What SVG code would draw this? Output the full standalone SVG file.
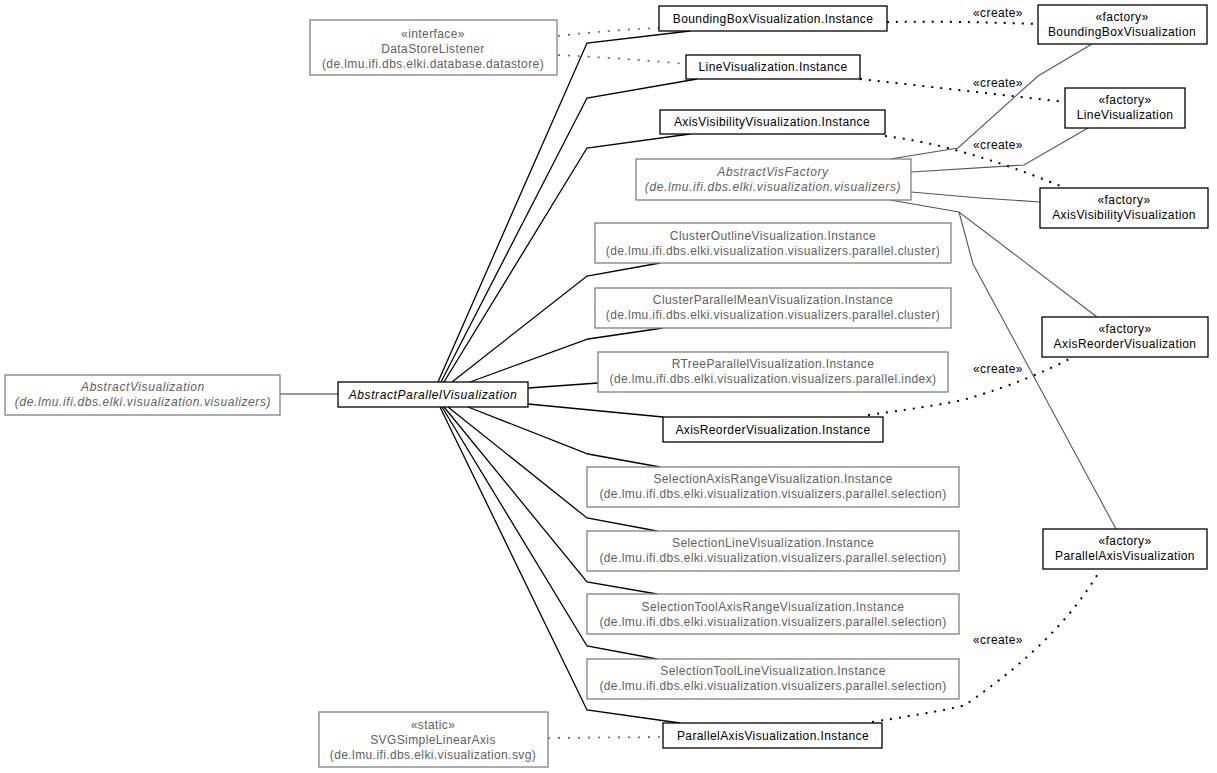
<svg xmlns="http://www.w3.org/2000/svg" width="1217" height="773" viewBox="0 0 1217 773">
<style>
text{font-family:"Liberation Sans",Arial,sans-serif;font-size:12px;text-anchor:middle;letter-spacing:0.4px}
.b rect{fill:#fff;stroke:#000;stroke-width:1.3}
.b text{fill:#000}
.g rect{fill:#fff;stroke:#808080;stroke-width:1.3}
.g text{fill:#606060}
.i text{font-style:italic;letter-spacing:0.6px}
.fan{fill:none;stroke:#000;stroke-width:1.3}
.gl{fill:none;stroke:#555;stroke-width:1.1}
.cr{fill:none;stroke:#000;stroke-width:2;stroke-dasharray:2 7}
.gd{fill:none;stroke:#606060;stroke-width:1.6;stroke-dasharray:2 8}
.lbl{fill:#000}
</style>
<rect width="1217" height="773" fill="#fff"/>
<g id="connectors">
<polyline class="fan" points="438,382 587,43 690,31"/>
<polyline class="fan" points="441,382 587,98 697,79"/>
<polyline class="fan" points="444,382 587,148 690,134"/>
<polyline class="fan" points="452,382 587,276 660,263"/>
<polyline class="fan" points="470,382 588,339 663,328"/>
<polyline class="fan" points="528,388 598,383"/>
<polyline class="fan" points="528,404 663,417"/>
<polyline class="fan" points="468,407 588,454 660,467"/>
<polyline class="fan" points="448,407 587,518 657,531"/>
<polyline class="fan" points="444,407 587,582 657,594"/>
<polyline class="fan" points="442,407 587,646 657,659"/>
<polyline class="fan" points="440,407 587,710 680,723"/>
<line x1="280" y1="394" x2="338" y2="394" stroke="#333" stroke-width="1.2"/>
<polyline class="gl" points="890,159 958,148 1038,76 1092,44"/>
<polyline class="gl" points="911,172 1024,165 1088,128"/>
<polyline class="gl" points="911,192 980,198 1040,202"/>
<polyline class="gl" points="890,200 959,212 1097,317"/>
<polyline class="gl" points="959,212 973,264 1116,529"/>
<path class="gd" d="M558,36 Q610,30 659,28"/>
<path class="gd" d="M558,55 Q620,58 686,64"/>
<path class="gd" d="M548,738 L663,737"/>
<path class="cr" d="M887,22 Q960,21 1038,24"/>
<path class="cr" d="M860,79 Q960,90 1065,102"/>
<path class="cr" d="M885,136 Q960,145 1063,187"/>
<path class="cr" d="M868,415 Q950,404 970,398 Q1030,380 1073,357"/>
<path class="cr" d="M872,722 Q950,710 965,705 Q1060,640 1100,570"/>
<text class="lbl" x="998" y="17">«create»</text>
<text class="lbl" x="998" y="87">«create»</text>
<text class="lbl" x="998" y="149">«create»</text>
<text class="lbl" x="998" y="373">«create»</text>
<text class="lbl" x="998" y="644">«create»</text>
</g>
<g id="n_bbinst" class="b"><rect x="659" y="6" width="228" height="25"/><text x="773" y="23">BoundingBoxVisualization.Instance</text></g>
<g id="n_lineinst" class="b"><rect x="686" y="55" width="174" height="24"/><text x="773" y="71">LineVisualization.Instance</text></g>
<g id="n_axisvisinst" class="b"><rect x="660" y="110" width="225" height="24"/><text x="772" y="126">AxisVisibilityVisualization.Instance</text></g>
<g id="n_absparallel" class="b i"><rect x="338" y="382" width="190" height="25"/><text x="433" y="399">AbstractParallelVisualization</text></g>
<g id="n_axisreorderinst" class="b"><rect x="663" y="417" width="220" height="25"/><text x="773" y="434">AxisReorderVisualization.Instance</text></g>
<g id="n_parallelaxisinst" class="b"><rect x="663" y="723" width="219" height="25"/><text x="773" y="740">ParallelAxisVisualization.Instance</text></g>
<g id="n_fbb" class="b"><rect x="1038" y="5" width="169" height="39"/><text x="1122" y="21">«factory»</text><text x="1122" y="36">BoundingBoxVisualization</text></g>
<g id="n_fline" class="b"><rect x="1065" y="88" width="120" height="40"/><text x="1125" y="104">«factory»</text><text x="1125" y="119">LineVisualization</text></g>
<g id="n_faxisvis" class="b"><rect x="1040" y="188" width="168" height="40"/><text x="1124" y="204">«factory»</text><text x="1124" y="219">AxisVisibilityVisualization</text></g>
<g id="n_faxisreorder" class="b"><rect x="1042" y="317" width="166" height="40"/><text x="1125" y="333">«factory»</text><text x="1125" y="348">AxisReorderVisualization</text></g>
<g id="n_fparallelaxis" class="b"><rect x="1043" y="529" width="164" height="40"/><text x="1125" y="545">«factory»</text><text x="1125" y="560">ParallelAxisVisualization</text></g>
<g id="n_datastore" class="g"><rect x="310" y="20" width="247" height="55"/><text x="433" y="38">«interface»</text><text x="433" y="53">DataStoreListener</text><text x="433" y="68">(de.lmu.ifi.dbs.elki.database.datastore)</text></g>
<g id="n_absvisfactory" class="g i"><rect x="636" y="159" width="275" height="41"/><text x="773" y="176">AbstractVisFactory</text><text x="773" y="191">(de.lmu.ifi.dbs.elki.visualization.visualizers)</text></g>
<g id="n_clusteroutline" class="g"><rect x="595" y="223" width="356" height="40"/><text x="773" y="240">ClusterOutlineVisualization.Instance</text><text x="773" y="255">(de.lmu.ifi.dbs.elki.visualization.visualizers.parallel.cluster)</text></g>
<g id="n_clustermean" class="g"><rect x="595" y="288" width="356" height="40"/><text x="773" y="304">ClusterParallelMeanVisualization.Instance</text><text x="773" y="319">(de.lmu.ifi.dbs.elki.visualization.visualizers.parallel.cluster)</text></g>
<g id="n_rtree" class="g"><rect x="598" y="352" width="350" height="40"/><text x="773" y="368">RTreeParallelVisualization.Instance</text><text x="773" y="383">(de.lmu.ifi.dbs.elki.visualization.visualizers.parallel.index)</text></g>
<g id="n_absvis" class="g i"><rect x="5" y="375" width="275" height="40"/><text x="143" y="391">AbstractVisualization</text><text x="143" y="406">(de.lmu.ifi.dbs.elki.visualization.visualizers)</text></g>
<g id="n_selaxisrange" class="g"><rect x="587" y="467" width="372" height="40"/><text x="773" y="483">SelectionAxisRangeVisualization.Instance</text><text x="773" y="498">(de.lmu.ifi.dbs.elki.visualization.visualizers.parallel.selection)</text></g>
<g id="n_selline" class="g"><rect x="587" y="531" width="372" height="40"/><text x="773" y="547">SelectionLineVisualization.Instance</text><text x="773" y="562">(de.lmu.ifi.dbs.elki.visualization.visualizers.parallel.selection)</text></g>
<g id="n_seltoolaxisrange" class="g"><rect x="587" y="594" width="372" height="40"/><text x="773" y="611">SelectionToolAxisRangeVisualization.Instance</text><text x="773" y="626">(de.lmu.ifi.dbs.elki.visualization.visualizers.parallel.selection)</text></g>
<g id="n_seltoolline" class="g"><rect x="587" y="659" width="372" height="40"/><text x="773" y="675">SelectionToolLineVisualization.Instance</text><text x="773" y="690">(de.lmu.ifi.dbs.elki.visualization.visualizers.parallel.selection)</text></g>
<g id="n_svgaxis" class="g"><rect x="319" y="712" width="229" height="55"/><text x="433" y="729">«static»</text><text x="433" y="744">SVGSimpleLinearAxis</text><text x="433" y="759">(de.lmu.ifi.dbs.elki.visualization.svg)</text></g>
</svg>
